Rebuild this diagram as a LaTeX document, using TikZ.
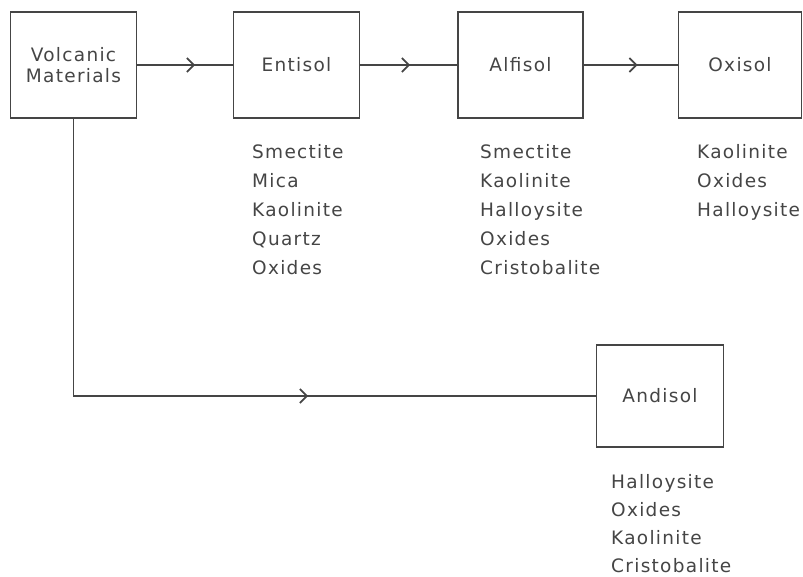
\documentclass[tikz,border=0pt]{standalone}
\usepackage{fontspec}
\newfontfamily\lettering[LetterSpace=7]{DejaVu Sans}
\usetikzlibrary{arrows.meta,decorations.markings}
\definecolor{ink}{HTML}{454545}
\tikzset{
  soilbox/.style={draw=ink, line width=1.4pt, minimum width=126pt, minimum height=106pt, inner sep=0pt, text=ink, font=\lettering\fontsize{18.5}{21}\selectfont, align=center},
  minlist/.style={anchor=north west, inner sep=0pt, text=ink, align=left, font=\lettering\fontsize{18.5}{29}\selectfont},
  flow/.style={draw=ink, line width=1.4pt, postaction={decorate}, decoration={markings, mark=at position #1 with {\arrow[ink, line width=1.8pt]{Straight Barb[length=7pt,width=14pt]}}}}
}
\begin{document}
\begin{tikzpicture}[x=1pt,y=-1pt]
\useasboundingbox (0,0) rectangle (803,577);
\node[soilbox] (vm) at (73.5,65) {Volcanic\\Materials};
\node[soilbox] (ent) at (296.5,65) {Entisol};
\node[soilbox, minimum width=125pt] (alf) at (520.5,65) {Alfisol};
\node[soilbox, minimum width=123pt] (oxi) at (740,65) {Oxisol};
\node[soilbox, minimum width=127pt, minimum height=102pt] (and) at (660,396) {Andisol};
\draw[flow=58pt] (vm.east) -- (ent.west);
\draw[flow=50pt] (ent.east) -- (alf.west);
\draw[flow=54pt] (alf.east) -- (oxi.west);
\draw[flow=512pt] (vm.south) |- (and.west);
\node[minlist] (entl) at (252,144) {Smectite\\Mica\\Kaolinite\\Quartz\\Oxides};
\node[minlist] (alfl) at (480,144) {Smectite\\Kaolinite\\Halloysite\\Oxides\\Cristobalite};
\node[minlist] (oxil) at (697,144) {Kaolinite\\Oxides\\Halloysite};
\node[minlist, font=\lettering\fontsize{18.5}{28}\selectfont] (andl) at (611,474) {Halloysite\\Oxides\\Kaolinite\\Cristobalite};
\end{tikzpicture}
\end{document}
